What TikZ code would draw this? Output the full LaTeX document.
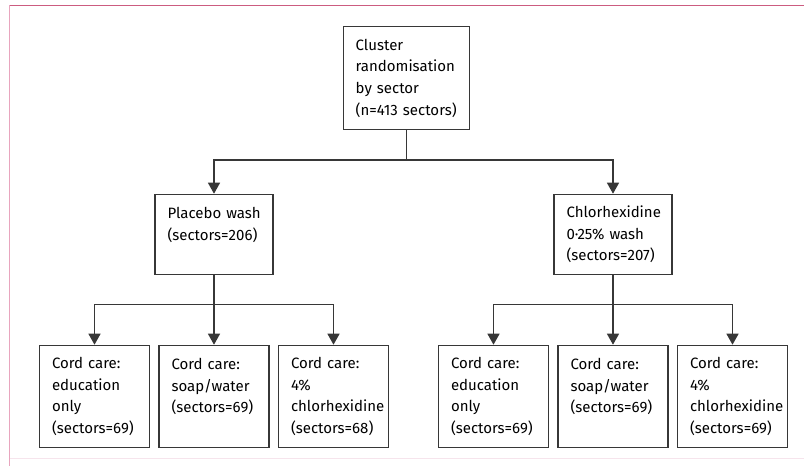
\documentclass[tikz,border=0pt]{standalone}
\usepackage{fontspec}
\setmainfont{Fira Sans}
\usetikzlibrary{arrows.meta,trees}

\definecolor{linegray}{RGB}{55,55,55}
\definecolor{toppink}{RGB}{204,92,128}
\definecolor{sidepink}{RGB}{232,165,190}
\definecolor{footpink}{RGB}{246,228,236}

\begin{document}
\begin{tikzpicture}[x=1pt, y=1pt, line width=1.4pt,
		font=\fontsize{15pt}{21.7pt}\selectfont,
		box/.style={draw=linegray, anchor=north, align=left, inner xsep=12.5pt, inner ysep=6pt},
		armbox/.style={box, text width=93pt, minimum height=80pt},
		cordbox/.style={box, text width=85pt, minimum height=102pt},
		level 1/.style={grow via three points={one child at (0,-115.5) and two children at (-192.7,-115.5) and (206.3,-115.5)}},
		level 2/.style={grow via three points={one child at (0,-110.3) and two children at (-59.75,-110.3) and (59.75,-110.3)}},
		edge from parent/.style={draw=linegray, -{Triangle[width=12pt,length=11pt]}},
		edge from parent path={(\tikzparentnode.south) -- ++(0,-29.5) -| (\tikzchildnode.north)}
		]
	% page frame
	\useasboundingbox (0,0) rectangle (804,-466);
	\draw[footpink, line width=1.5pt] (9.5,-458.7) -- (804,-458.7);
	\draw[sidepink, line width=1.5pt] (9.5,-5.3) -- (9.5,-466);
	\draw[toppink, line width=1.5pt] (9.5,-5.3) -- (804,-5.3);

	\node [box, text width=102pt, minimum height=103pt, inner xsep=12pt] (rand) at (406.7,-26)
		{Cluster\\randomisation\\by sector\\(n=413~sectors)}
	  child { node [armbox] (placebo) {Placebo~wash\\(sectors=206)\\~}
		child { node [cordbox] (pl_edu) {Cord care:\\education\\only\\(sectors=69)} }
		child { node [cordbox] (pl_soap) {Cord care:\\soap/water\\(sectors=69)\\~} }
		child { node [cordbox] (pl_chx) {Cord care:\\4\%\\chlorhexidine\\(sectors=68)} }
	  }
	  child { node [armbox] (chx) {Chlorhexidine\\0·25\%~wash\\(sectors=207)}
		child { node [cordbox] (cx_edu) {Cord care:\\education\\only\\(sectors=69)} }
		child { node [cordbox] (cx_soap) {Cord care:\\soap/water\\(sectors=69)\\~} }
		child { node [cordbox] (cx_chx) {Cord care:\\4\%\\chlorhexidine\\(sectors=69)} }
	  };
\end{tikzpicture}
\end{document}
